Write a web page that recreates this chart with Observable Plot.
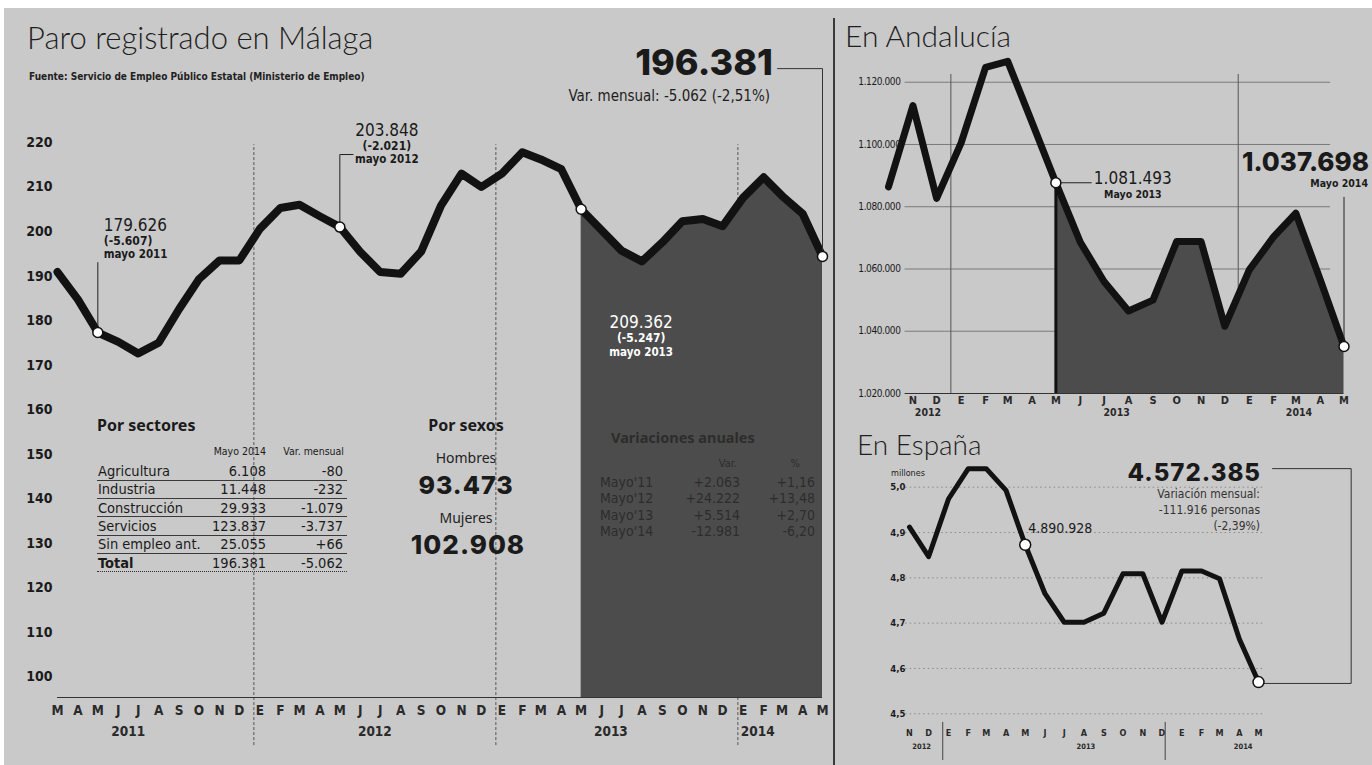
<!DOCTYPE html>
<html><head><meta charset="utf-8">
<script src="https://cdn.jsdelivr.net/npm/d3@7"></script>
<script src="https://cdn.jsdelivr.net/npm/@observablehq/plot@0.6"></script>
<style>
body{margin:0;background:#fff;}
#page{position:relative;width:1372px;height:765px;overflow:hidden;background:#fff;}
#panel{position:absolute;left:4px;top:8px;right:0;bottom:0;background:#c9c9c9;}
.abs{position:absolute;white-space:nowrap;line-height:1;}
svg{position:absolute;overflow:visible;}
</style></head><body><div id="page"><div id="panel"></div></div>
<script>
// ---------- DATA ----------
const monthLetters = ["E","F","M","A","M","J","J","A","S","O","N","D"];

// Málaga, miles de parados, marzo 2011 - mayo 2014
const malagaStart = "2011-03-01";
const malagaValues = [190.9,184.7,177.3,175.2,172.6,175.0,182.6,189.3,193.5,193.5,
  200.6,205.3,206.0,203.4,201.0,195.4,190.9,190.5,195.5,205.8,213.0,210.0,
  213.0,217.8,216.2,214.0,205.0,200.3,195.7,193.3,197.6,202.3,202.8,201.2,
  207.6,212.2,208.0,204.0,194.4];
const malagaTicks = [100,110,120,130,140,150,160,170,180,190,200,210,220];
const malagaYears = ["2011","2012","2013","2014"];
const malagaYearPos = ["2011-06-16","2012-06-23","2013-06-15","2014-01-23"];
const malagaSeparators = ["2011-12-23","2012-12-23","2013-12-24"];
const malagaShadeFrom = "2013-05-01";
const malagaNoteValues = ["179.626","203.848","209.362"];
const malagaNoteVar = ["(-5.607)","(-2.021)","(-5.247)"];
const malagaNoteMonth = ["mayo 2011","mayo 2012","mayo 2013"];
const malagaLast = "196.381";
const malagaLastVar = "Var. mensual: -5.062 (-2,51%)";

const sectores = ["Agricultura","Industria","Construcción","Servicios","Sin empleo ant.","Total"];
const sectoresMayo = ["6.108","11.448","29.933","123.837","25.055","196.381"];
const sectoresVar = ["-80","-232","-1.079","-3.737","+66","-5.062"];
const sexos = ["Hombres","Mujeres"];
const sexosValores = ["93.473","102.908"];
const variacionesMeses = ["Mayo'11","Mayo'12","Mayo'13","Mayo'14"];
const variacionesAbs = ["+2.063","+24.222","+5.514","-12.981"];
const variacionesPct = ["+1,16","+13,48","+2,70","-6,20"];

// Andalucía, miles, octubre 2012 - mayo 2014
const andStart = "2012-10-01";
const andValues = [1086.4,1112.5,1082.7,1100.5,1124.8,1126.7,1107.0,1087.7,1068.6,1056.0,
  1046.5,1050.0,1068.8,1068.8,1041.6,1059.7,1070.4,1077.9,1056.5,1035.1];
const andTicks = [1020,1040,1060,1080,1100,1120];
const andYears = ["2012","2013","2014"];
const andYearPos = ["2012-11-20","2013-07-17","2014-03-05"];
const andSeparators = ["2012-12-19","2013-12-18"];
const andGrid = ["2012-10-22","2014-04-14"];
const andNote = ["1.081.493","Mayo 2013"];
const andLast = ["1.037.698","Mayo 2014"];

// España, millones, noviembre 2012 - mayo 2014
const espStart = "2012-11-01";
const espValues = [4.912,4.847,4.974,5.041,5.041,4.993,4.873,4.765,4.702,4.702,
  4.722,4.809,4.809,4.702,4.815,4.815,4.798,4.665,4.570];
const espTicks = [4.5,4.6,4.7,4.8,4.9,5.0];
const espYears = ["2012","2013","2014"];
const espYearPos = ["2012-11-20","2013-08-04","2014-04-07"];
const espSeparators = ["2012-12-23","2013-12-06"];
const espGrid = ["2012-10-26","2014-05-12"];
const espNote = "4.890.928";
const espLast = ["4.572.385","Variación mensual:","-111.916 personas","(-2,39%)"];

// ---------- HELPERS ----------
const COND = "'DejaVu Sans Condensed','DejaVu Sans',sans-serif";
const LIGHT = "'Lato Light','Open Sans Light',Lato,'Open Sans',sans-serif";
const HEAVY = "Inter,'Noto Sans',sans-serif";
const HUM = "'Noto Sans','Open Sans',sans-serif";
const INK = "#1b1b1b";
const DARK = "#4c4c4c";
const page = document.getElementById("page");
const D = s => new Date(s + "T00:00:00Z");
const series = (start, vals) => vals.map((v, i) => ({date: d3.utcMonth.offset(D(start), i), v}));
const letter = d => monthLetters[d.getUTCMonth()];

function label(text, x, cy, o = {}) {
  const el = document.createElement("div");
  el.className = "abs";
  el.textContent = text;
  const tx = o.anchor === "end" ? "-100%" : o.anchor === "middle" ? "-50%" : "0";
  Object.assign(el.style, {
    left: x + "px", top: cy + "px", transform: `translate(${tx},-50%)`,
    fontFamily: o.family || COND, fontSize: (o.size || 12) + "px",
    fontWeight: o.weight || "normal", color: o.color || INK,
    letterSpacing: (o.ls || 0) + "px"
  });
  page.appendChild(el);
  return el;
}
function place(svg, left, top) { svg.style.left = left + "px"; svg.style.top = top + "px"; page.appendChild(svg); }

// ---------- MÁLAGA ----------
const mData = series(malagaStart, malagaValues);
const mDark = mData.filter(d => d.date >= D(malagaShadeFrom));
const mHi = mData.filter(d => d.date.getUTCMonth() === 4);
const y0 = 95.3;
const noteStyle = [
  {dx: 6, anchor: "start", dys: [-107, -91, -78], fill: INK},
  {dx: 47, anchor: "middle", dys: [-96.5, -80.5, -67.5], fill: INK},
  {dx: 60, anchor: "middle", dys: [113, 129, 143], fill: "#ffffff"}
];
const noteMarks = [];
malagaNoteValues.forEach((t, i) => {
  const s = noteStyle[i], p = [mHi[i]];
  const txt = [t, malagaNoteVar[i], malagaNoteMonth[i]];
  const sizes = [17, 12, 11.5], weights = ["normal", "bold", "bold"];
  txt.forEach((tt, j) => noteMarks.push(Plot.text(p, {x: "date", y: "v", text: () => tt,
    dx: s.dx, dy: s.dys[j], textAnchor: s.anchor, fontSize: sizes[j], fontWeight: weights[j], fill: s.fill})));
});
const may12 = mHi[1], may14 = mHi[3];
const mainSvg = Plot.plot({
  width: 830, height: 765,
  marginTop: 119.75, marginBottom: 68, marginLeft: 57, marginRight: 8,
  style: {background: "transparent", fontFamily: COND, color: INK},
  x: {type: "utc", domain: [D(malagaStart), mData[mData.length - 1].date], label: null},
  y: {domain: [y0, 225], label: null},
  marks: [
    Plot.ruleX(malagaSeparators.map(D), {y1: 84.5, y2: 219.5, stroke: "#555", strokeWidth: 1, strokeDasharray: "3,2"}),
    Plot.areaY(mDark, {x: "date", y1: () => y0, y2: "v", fill: DARK}),
    Plot.ruleY([y0], {stroke: "#333", strokeWidth: 1.2}),
    Plot.lineY(mData, {x: "date", y: "v", stroke: "#121212", strokeWidth: 8, strokeLinejoin: "round"}),
    Plot.ruleX([mHi[0]], {x: "date", y1: "v", y2: () => 193.0, stroke: "#222", strokeWidth: 1}),
    Plot.line([{date: may12.date, v: may12.v}, {date: may12.date, v: 217.3}, {date: d3.utcDay.offset(may12.date, 20), v: 217.3}],
      {x: "date", y: "v", stroke: "#222", strokeWidth: 1}),
    Plot.line([{date: D("2014-02-22"), v: 236.6}, {date: may14.date, v: 236.6}, {date: may14.date, v: may14.v}],
      {x: "date", y: "v", stroke: "#333", strokeWidth: 1}),
    Plot.dot(mHi, {x: "date", y: "v", r: 5, fill: "#fff", stroke: "#111", strokeWidth: 1.5}),
    Plot.axisY({ticks: malagaTicks, tickSize: 0, tickPadding: 5, fontSize: 14, fontWeight: "bold", fill: INK, label: null}),
    Plot.axisX({ticks: mData.map(d => d.date), tickFormat: letter, tickSize: 0, tickPadding: 8, fontSize: 13.5, fontWeight: "bold", fill: "#2a2a2a", label: null}),
    Plot.text(malagaYears, {x: (d, i) => D(malagaYearPos[i]), text: d => d, frameAnchor: "bottom", dy: 38, fontSize: 13.5, fontWeight: "bold", fill: "#2a2a2a"}),
    ...noteMarks
  ]
});
place(mainSvg, 0, 0);

// titles & texts (main)
label("Paro registrado en Málaga", 27, 37, {family: LIGHT, size: 31, weight: 300, color: "#1e1e1e"});
label("Fuente: Servicio de Empleo Público Estatal (Ministerio de Empleo)", 29, 77, {size: 10, weight: "bold", color: "#222"});
label(malagaLast, 773, 62, {family: HEAVY, size: 36, weight: 800, anchor: "end", color: "#1a1a1a"});
label(malagaLastVar, 770, 96, {size: 15, anchor: "end", color: "#1e1e1e"});

// Por sectores
label("Por sectores", 97, 425, {family: HUM, size: 16, weight: "bold"});
label("Mayo 2014", 266, 451, {size: 10.5, anchor: "end"});
label("Var. mensual", 344, 451, {size: 10.5, anchor: "end"});
sectores.forEach((s, i) => {
  const cy = 471 + i * 18.35;
  const w = i === sectores.length - 1 ? "bold" : "normal";
  label(s, 98, cy, {size: 14.5, weight: w});
  label(sectoresMayo[i], 266, cy, {size: 14.5, anchor: "end"});
  label(sectoresVar[i], 343, cy, {size: 14.5, anchor: "end"});
  const r = document.createElement("div");
  Object.assign(r.style, {position: "absolute", left: "97px", top: (cy + 8.5) + "px", width: "250px",
    borderTop: i === sectores.length - 1 ? "1.5px dotted #333" : "1.3px solid #3a3a3a"});
  page.appendChild(r);
});
// Por sexos
label("Por sexos", 466, 425, {family: HUM, size: 16, weight: "bold", anchor: "middle"});
label(sexos[0], 466, 458, {family: HUM, size: 14, anchor: "middle", color: "#222"});
label(sexosValores[0], 466, 485, {family: HEAVY, size: 25, weight: 800, anchor: "middle", ls: 1});
label(sexos[1], 466, 518, {family: HUM, size: 14, anchor: "middle", color: "#222"});
label(sexosValores[1], 468, 545, {family: HEAVY, size: 26, weight: 800, anchor: "middle", ls: 1});
// Variaciones anuales (on dark)
const VC = "#2c2c2c";
label("Variaciones anuales", 611, 437, {family: HUM, size: 14.5, weight: "bold", color: VC});
label("Var.", 737, 463, {size: 11, anchor: "end", color: VC});
label("%", 800, 463, {size: 11, anchor: "end", color: VC});
variacionesMeses.forEach((m, i) => {
  const cy = 482 + i * 16.4;
  label(m, 600, cy, {size: 14, color: VC});
  label(variacionesAbs[i], 740, cy, {size: 14, anchor: "end", color: VC});
  label(variacionesPct[i], 815, cy, {size: 14, anchor: "end", color: VC});
});

// panel separator
const sep = document.createElement("div");
Object.assign(sep.style, {position: "absolute", left: "833px", top: "18px", width: "1.5px", height: "747px", background: "#3a3a3a"});
page.appendChild(sep);

// ---------- ANDALUCÍA ----------
const aData = series(andStart, andValues);
const aMay13 = aData.find(d => +d.date === +D("2013-05-01"));
const aLastP = aData[aData.length - 1];
const aDark = aData.filter(d => d.date >= aMay13.date);
const thousands = d => d3.format(",")(Math.round(d * 1000)).replace(/,/g, ".");
const andSvg = Plot.plot({
  width: 537, height: 430,
  marginTop: 50.6, marginBottom: 37, marginLeft: 53, marginRight: 28.5,
  style: {background: "transparent", fontFamily: COND, color: INK},
  x: {type: "utc", domain: [D(andStart), aLastP.date], label: null},
  y: {domain: [1020, 1130], label: null},
  marks: [
    Plot.ruleY(andTicks.slice(1), {x1: () => D(andGrid[0]), x2: () => D(andGrid[1]), stroke: "#7a7a7a", strokeWidth: 1}),
    Plot.ruleX(andSeparators.map(D), {y1: 1020, y2: 1122.5, stroke: "#555", strokeWidth: 1}),
    Plot.areaY(aDark, {x: "date", y1: () => 1020, y2: "v", fill: DARK}),
    Plot.ruleY([1020], {x1: () => D(andGrid[0]), x2: () => aLastP.date, stroke: "#333", strokeWidth: 1.2}),
    Plot.ruleX([aMay13], {x: "date", y1: () => 1020, y2: "v", stroke: "#111", strokeWidth: 3}),
    Plot.lineY(aData, {x: "date", y: "v", stroke: "#121212", strokeWidth: 7, strokeLinejoin: "round"}),
    Plot.ruleY([aMay13], {y: "v", x1: "date", x2: () => D("2013-06-16"), stroke: "#222", strokeWidth: 1}),
    Plot.ruleX([aLastP], {x: "date", y1: "v", y2: () => 1083, stroke: "#222", strokeWidth: 1}),
    Plot.dot([aMay13, aLastP], {x: "date", y: "v", r: 5, fill: "#fff", stroke: "#111", strokeWidth: 1.5}),
    Plot.text([aMay13], {x: "date", y: "v", text: () => andNote[0], dx: 38, dy: -4, textAnchor: "start", fontSize: 17, fill: INK}),
    Plot.text([aMay13], {x: "date", y: "v", text: () => andNote[1], dx: 77, dy: 12, textAnchor: "middle", fontSize: 10.5, fontWeight: "bold", fill: INK}),
    Plot.axisY({ticks: andTicks, tickFormat: thousands, tickSize: 0, tickPadding: 0, dx: 12, fontSize: 10, fill: INK, label: null}),
    Plot.axisX({ticks: aData.slice(1).map(d => d.date), tickFormat: letter, tickSize: 0, tickPadding: 3, fontSize: 11, fontWeight: "bold", fill: "#2a2a2a", label: null}),
    Plot.text(andYears, {x: (d, i) => D(andYearPos[i]), text: d => d, frameAnchor: "bottom", dy: 22, fontSize: 10.5, fontWeight: "bold", fill: "#2a2a2a"})
  ]
});
andSvg.querySelectorAll("g[aria-label='y-axis tick label'] text").forEach(t => t.setAttribute("letter-spacing", "-0.4"));
place(andSvg, 835, 0);
label("En Andalucía", 845, 35, {family: LIGHT, size: 30, weight: 300, color: "#1e1e1e"});
label(andLast[0], 1369, 162, {family: HEAVY, size: 26, weight: 800, anchor: "end", color: "#1a1a1a"});
label(andLast[1], 1368, 183, {size: 10.5, weight: "bold", anchor: "end"});

// ---------- ESPAÑA ----------
const eData = series(espStart, espValues);
const eMay13 = eData.find(d => +d.date === +D("2013-05-01"));
const eLastP = eData[eData.length - 1];
const espSvg = Plot.plot({
  width: 537, height: 335,
  marginTop: 11.4, marginBottom: 51.7, marginLeft: 74, marginRight: 114,
  style: {background: "transparent", fontFamily: COND, color: INK},
  x: {type: "utc", domain: [D(espStart), eLastP.date], label: null},
  y: {domain: [4.5, 5.1], label: null},
  marks: [
    Plot.ruleY(espTicks, {x1: () => D(espGrid[0]), x2: () => D(espGrid[1]), stroke: "#8a8a8a", strokeWidth: 1, strokeDasharray: "1.5,3"}),
    Plot.ruleX(espSeparators.map(D), {y1: 4.481, y2: 4.397, stroke: "#444", strokeWidth: 1}),
    Plot.line([{date: D("2014-05-23"), v: 5.041}, {date: D("2014-09-23"), v: 5.041}, {date: D("2014-09-23"), v: 4.567}, {date: eLastP.date, v: 4.567}],
      {x: "date", y: "v", stroke: "#333", strokeWidth: 1}),
    Plot.lineY(eData, {x: "date", y: "v", stroke: "#121212", strokeWidth: 5, strokeLinejoin: "round"}),
    Plot.dot([eMay13, eLastP], {x: "date", y: "v", r: 5.5, fill: "#fff", stroke: "#111", strokeWidth: 1.5}),
    Plot.text([eMay13], {x: "date", y: "v", text: () => espNote, dx: 3, dy: -16, textAnchor: "start", fontSize: 14, fill: INK}),
    Plot.axisY({ticks: espTicks, tickFormat: d => d3.format(".1f")(d).replace(".", ","), tickSize: 0, tickPadding: 4, fontSize: 9.5, fontWeight: "bold", fill: INK, label: null}),
    Plot.axisX({ticks: eData.map(d => d.date), tickFormat: letter, tickSize: 0, tickPadding: 15.5, fontSize: 9, fontWeight: "bold", fill: "#2a2a2a", label: null}),
    Plot.text(espYears, {x: (d, i) => D(espYearPos[i]), text: d => d, frameAnchor: "bottom", dy: 35, fontSize: 7.5, fontWeight: "bold", fill: "#2a2a2a"})
  ]
});
place(espSvg, 835, 430);
label("En España", 857, 444, {family: LIGHT, size: 28, weight: 300, color: "#1e1e1e"});
label("millones", 891, 472.5, {size: 9, color: "#222"});
label(espLast[0], 1261, 473, {family: HEAVY, size: 24, weight: 800, anchor: "end", ls: 1, color: "#1a1a1a"});
label(espLast[1], 1260, 494, {size: 12, anchor: "end", color: "#333"});
label(espLast[2], 1260, 510, {size: 12, anchor: "end", color: "#333"});
label(espLast[3], 1260, 526, {size: 12, anchor: "end", color: "#333"});
</script></body></html>
